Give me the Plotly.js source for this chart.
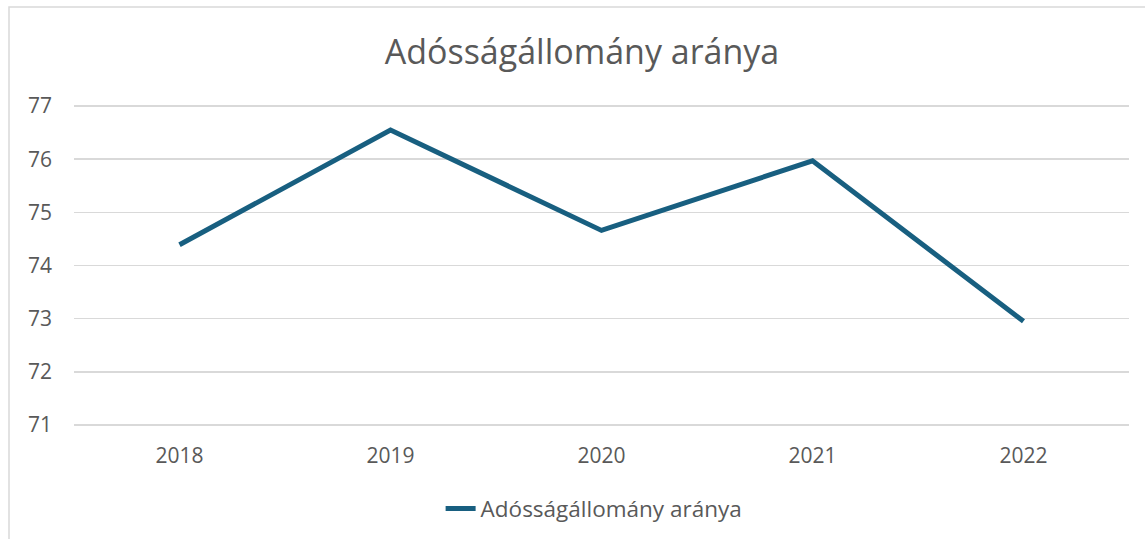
<!DOCTYPE html>
<html>
<head>
<meta charset="utf-8">
<script src="https://cdn.plot.ly/plotly-3.0.1.min.js"></script>
<style>
html,body{margin:0;padding:0;background:#fff;}
#chart{width:1145px;height:539px;}
</style>
</head>
<body>
<div id="chart"></div>
<script>
const years = ["2018", "2019", "2020", "2021", "2022"];
const values = [74.39, 76.55, 74.66, 75.97, 72.95];
const seriesName = "Adósságállomány aránya";
const chartTitle = "Adósságállomány aránya";
const yTicks = [71, 72, 73, 74, 75, 76, 77];

const FONT = "Open Sans, Liberation Sans, sans-serif";
const trace = {
  x: years,
  y: values,
  type: "scatter",
  mode: "lines",
  name: seriesName,
  line: {color: "#185f80", width: 5, shape: "linear"},
  hoverinfo: "x+y"
};

const PL = 74, PT = 105, PR = 1129, PB = 426;
const layout = {
  width: 1145,
  height: 539,
  margin: {l: PL, r: 1145 - PR, t: PT, b: 539 - PB, autoexpand: false},
  paper_bgcolor: "#ffffff",
  plot_bgcolor: "#ffffff",
  font: {family: FONT, color: "#595959"},
  title: {
    text: chartTitle,
    font: {family: FONT, size: 34, color: "#595959"},
    x: 0.4815, xref: "paper", xanchor: "center",
    y: 0.903, yref: "container", yanchor: "middle"
  },
  xaxis: {
    type: "category",
    range: [-0.5, 4.5],
    showgrid: false,
    zeroline: false,
    showline: false,
    ticks: "",
    tickfont: {family: FONT, size: 21, color: "#595959"},
    ticklabelstandoff: 15
  },
  yaxis: {
    range: [70.98, 77.02],
    tickvals: yTicks,
    showgrid: true,
    gridcolor: "#d9d9d9",
    gridwidth: 1.5,
    zeroline: false,
    showline: false,
    ticks: "",
    tickfont: {family: FONT, size: 21, color: "#595959"},
    ticklabelstandoff: 21
  },
  showlegend: true,
  legend: {
    orientation: "h",
    x: 0.493, xanchor: "center",
    y: -0.258, yanchor: "middle",
    font: {family: FONT, size: 22.5, color: "#595959"}
  },
  shapes: [{
    type: "rect", xref: "paper", yref: "paper",
    x0: (9 - PL) / (PR - PL), x1: (1160 - PL) / (PR - PL),
    y0: (PB - 560) / (PB - PT), y1: (PB - 7) / (PB - PT),
    line: {color: "#d9d9d9", width: 1.5},
    fillcolor: "rgba(0,0,0,0)",
    layer: "below"
  }]
};

Plotly.newPlot("chart", [trace], layout, {displayModeBar: false, staticPlot: true});
</script>
</body>
</html>
